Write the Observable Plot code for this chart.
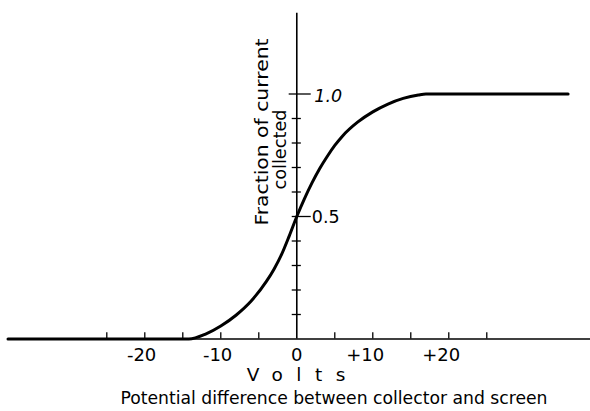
<!DOCTYPE html>
<html><head><meta charset="utf-8">
<script src="https://cdn.jsdelivr.net/npm/d3@7"></script>
<script src="https://cdn.jsdelivr.net/npm/@observablehq/plot@0.6"></script>
<style>html,body{margin:0;padding:0;background:#fff;overflow:hidden;}</style>
</head><body><div id="chart"></div>
<script>
// Curve: fraction of current collected vs. volts
const volts    = [-38, -14.2, -12, -10, -8, -6, -4, -3, -2, -1, 0, 1, 2, 3, 4, 5, 6, 8, 10, 12, 14, 16, 17, 35.7];
const fraction = [0, 0, 0.02, 0.053, 0.097, 0.155, 0.235, 0.285, 0.345, 0.42, 0.5, 0.572, 0.637, 0.695, 0.745, 0.79, 0.828, 0.885, 0.927, 0.959, 0.982, 0.996, 1.0, 1.0];

const xTickValues = [-25, -20, -15, -10, -5, 5, 10, 15, 20, 25];
const xLabelValues = [-20, -10, 0, 10, 20];
const xLabelTexts = ["-20", "-10", "0", "+10", "+20"];
const yTickValues = [0.1, 0.2, 0.3, 0.4, 0.5, 0.6, 0.7, 0.8, 0.9, 1.0];
const yLabelValues = [0.5, 1.0];
const yLabelTexts = ["0.5", "1.0"];
const xTitle = "Volts";
const caption = "Potential difference between collector and screen";
const yTitleLines = ["Fraction of current", "collected"];
const xMin = -38.5, xMax = 38.7, yMax = 1.33;

const curve = volts.map((v, i) => ({v, f: fraction[i]}));
const xLabels = xLabelValues.map((v, i) => ({v, text: xLabelTexts[i]}));
const yLabels = yLabelValues.map((f, i) => ({f, text: yLabelTexts[i]}));

const font = "'DejaVu Sans', sans-serif";

const chart = Plot.plot({
  width: 590,
  height: 411,
  marginTop: 0, marginRight: 0, marginBottom: 0, marginLeft: 0,
  style: {fontFamily: font, fontSize: "16px", background: "#fff", color: "#000"},
  x: {domain: [xMin, xMax], range: [3.7, 590.4], axis: null},
  y: {domain: [0, yMax], range: [338.5, 12.65], axis: null},
  marks: [
    // axes
    Plot.ruleY([0], {x1: volts[0], x2: xMax, stroke: "#000", strokeWidth: 1.5}),
    Plot.ruleX([0], {y1: 0, y2: yMax, stroke: "#000", strokeWidth: 1.6}),
    // x ticks (above axis)
    Plot.ruleX(xTickValues, {x: d => d, y1: 0, y2: 0.026, stroke: "#000", strokeWidth: 1.3}),
    // y ticks (crossing axis)
    Plot.ruleY(yTickValues, {
      y: d => d,
      x1: d => (d === 1.0 ? -1.0 : -0.6),
      x2: d => (yLabelValues.includes(d) ? 1.9 : 0.6),
      stroke: "#000", strokeWidth: 1.3
    }),
    // curve
    Plot.line(curve, {x: "v", y: "f", curve: "monotone-x", stroke: "#000", strokeWidth: 3, strokeLinejoin: "round", strokeLinecap: "round"}),
    // x tick labels
    Plot.text(xLabels.filter(d => d.v !== 0), {x: "v", y: 0, text: "text", textAnchor: "end", lineAnchor: "bottom", dx: 11.5, dy: 21.5, fontSize: 18}),
    Plot.text(xLabels.filter(d => d.v === 0), {x: "v", y: 0, text: "text", textAnchor: "middle", lineAnchor: "bottom", dy: 21.5, fontSize: 18}),
    // y tick labels
    Plot.text(yLabels.filter(d => d.f !== 1.0), {x: 0, y: "f", text: "text", textAnchor: "start", lineAnchor: "bottom", dx: 15, dy: 6.5, fontSize: 17.5}),
    Plot.text(yLabels.filter(d => d.f === 1.0), {x: 0, y: "f", text: "text", textAnchor: "start", lineAnchor: "bottom", dx: 17.5, dy: 8, fontSize: 17.5, fontStyle: "italic"}),
    // x title
    Plot.text([xTitle], {x: 0, y: 0, text: d => d, textAnchor: "start", lineAnchor: "bottom", dx: -50, dy: 41.5, fontSize: 18.5}),
    // caption
    Plot.text([caption], {frameAnchor: "bottom", text: d => d, lineAnchor: "bottom", dx: 38.5, dy: -7.5, fontSize: 18}),
    // y title (rotated, two lines)
    Plot.text([yTitleLines[0]], {frameAnchor: "top-left", text: d => d, rotate: -90, textAnchor: "middle", lineAnchor: "bottom", dx: 267, dy: 131.5, fontSize: 18.5}),
    Plot.text([yTitleLines[1]], {frameAnchor: "top-left", text: d => d, rotate: -90, textAnchor: "middle", lineAnchor: "bottom", dx: 285.5, dy: 149, fontSize: 17})
  ]
});

document.getElementById("chart").appendChild(chart);

// fine typographic adjustments
const svg = d3.select(chart);
const fit = {};
fit[caption] = 427;
fit[yTitleLines[0]] = 187;
fit[yTitleLines[1]] = 80;
svg.selectAll("text").each(function () {
  const t = this.textContent;
  if (fit[t] !== undefined) {
    d3.select(this).attr("textLength", fit[t]).attr("lengthAdjust", "spacingAndGlyphs");
  }
  if (t === xTitle) {
    d3.select(this).attr("letter-spacing", "13.5px");
  }
});
</script>
</body></html>
